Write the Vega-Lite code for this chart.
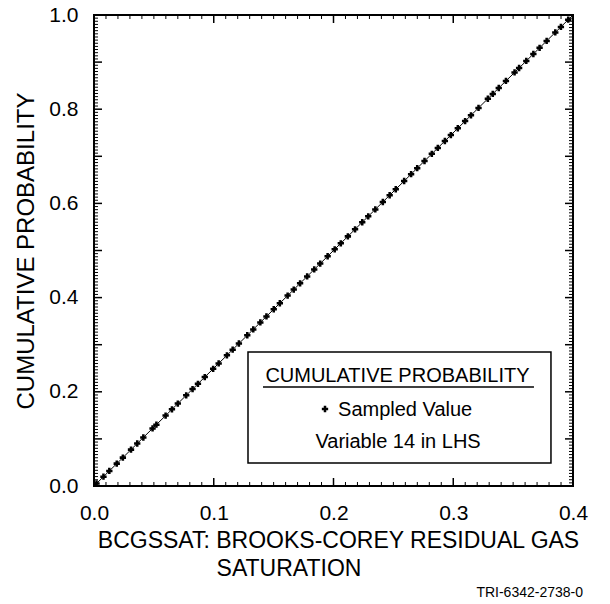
{
  "$schema": "https://vega.github.io/schema/vega-lite/v6.json",
  "width": 479,
  "height": 471,
  "autosize": "none",
  "padding": {"left": 94, "top": 15, "right": 37, "bottom": 118},
  "background": "white",
  "datasets": {
    "cdf": [{"value": 0, "prob": 0}, {"value": 0.4, "prob": 1}],
    "samples": [
      {"value": 0.0021, "prob": 0.00525}, {"value": 0.0079, "prob": 0.01975}, {"value": 0.0128, "prob": 0.032},
      {"value": 0.0190, "prob": 0.0475}, {"value": 0.0241, "prob": 0.06025}, {"value": 0.0309, "prob": 0.07725},
      {"value": 0.0361, "prob": 0.09025}, {"value": 0.0412, "prob": 0.103}, {"value": 0.0489, "prob": 0.12225},
      {"value": 0.0521, "prob": 0.13025}, {"value": 0.0598, "prob": 0.1495}, {"value": 0.0651, "prob": 0.16275},
      {"value": 0.0700, "prob": 0.175}, {"value": 0.0770, "prob": 0.1925}, {"value": 0.0823, "prob": 0.20575},
      {"value": 0.0868, "prob": 0.217}, {"value": 0.0925, "prob": 0.23125}, {"value": 0.0995, "prob": 0.24875},
      {"value": 0.1041, "prob": 0.26025}, {"value": 0.1110, "prob": 0.2775}, {"value": 0.1158, "prob": 0.2895},
      {"value": 0.1210, "prob": 0.3025}, {"value": 0.1280, "prob": 0.32}, {"value": 0.1330, "prob": 0.3325},
      {"value": 0.1389, "prob": 0.34725}, {"value": 0.1440, "prob": 0.36}, {"value": 0.1501, "prob": 0.37525},
      {"value": 0.1552, "prob": 0.388}, {"value": 0.1617, "prob": 0.40425}, {"value": 0.1668, "prob": 0.417},
      {"value": 0.1721, "prob": 0.43025}, {"value": 0.1780, "prob": 0.445}, {"value": 0.1839, "prob": 0.45975},
      {"value": 0.1889, "prob": 0.47225}, {"value": 0.1951, "prob": 0.48775}, {"value": 0.2010, "prob": 0.5025},
      {"value": 0.2061, "prob": 0.51525}, {"value": 0.2120, "prob": 0.53}, {"value": 0.2180, "prob": 0.545},
      {"value": 0.2240, "prob": 0.56}, {"value": 0.2290, "prob": 0.5725}, {"value": 0.2349, "prob": 0.58725},
      {"value": 0.2412, "prob": 0.603}, {"value": 0.2469, "prob": 0.61725}, {"value": 0.2520, "prob": 0.63},
      {"value": 0.2590, "prob": 0.6475}, {"value": 0.2648, "prob": 0.662}, {"value": 0.2699, "prob": 0.67475},
      {"value": 0.2760, "prob": 0.69}, {"value": 0.2821, "prob": 0.70525}, {"value": 0.2871, "prob": 0.71775},
      {"value": 0.2930, "prob": 0.7325}, {"value": 0.2980, "prob": 0.745}, {"value": 0.3038, "prob": 0.7595},
      {"value": 0.3099, "prob": 0.77475}, {"value": 0.3148, "prob": 0.787}, {"value": 0.3211, "prob": 0.80275},
      {"value": 0.3289, "prob": 0.82225}, {"value": 0.3330, "prob": 0.8325}, {"value": 0.3380, "prob": 0.845},
      {"value": 0.3440, "prob": 0.86}, {"value": 0.3512, "prob": 0.878}, {"value": 0.3550, "prob": 0.8875},
      {"value": 0.3610, "prob": 0.9025}, {"value": 0.3669, "prob": 0.91725}, {"value": 0.3721, "prob": 0.93025},
      {"value": 0.3780, "prob": 0.945}, {"value": 0.3852, "prob": 0.963}, {"value": 0.3899, "prob": 0.97475},
      {"value": 0.3960, "prob": 0.99}
    ],
    "xmajor": [{"v": 0}, {"v": 0.1}, {"v": 0.2}, {"v": 0.3}, {"v": 0.4}],
    "xminor": [
      {"v": 0.01}, {"v": 0.02}, {"v": 0.03}, {"v": 0.04}, {"v": 0.05}, {"v": 0.06}, {"v": 0.07}, {"v": 0.08}, {"v": 0.09},
      {"v": 0.11}, {"v": 0.12}, {"v": 0.13}, {"v": 0.14}, {"v": 0.15}, {"v": 0.16}, {"v": 0.17}, {"v": 0.18}, {"v": 0.19},
      {"v": 0.21}, {"v": 0.22}, {"v": 0.23}, {"v": 0.24}, {"v": 0.25}, {"v": 0.26}, {"v": 0.27}, {"v": 0.28}, {"v": 0.29},
      {"v": 0.31}, {"v": 0.32}, {"v": 0.33}, {"v": 0.34}, {"v": 0.35}, {"v": 0.36}, {"v": 0.37}, {"v": 0.38}, {"v": 0.39}
    ],
    "ymajor": [{"v": 0}, {"v": 0.1}, {"v": 0.2}, {"v": 0.3}, {"v": 0.4}, {"v": 0.5}, {"v": 0.6}, {"v": 0.7}, {"v": 0.8}, {"v": 0.9}, {"v": 1}],
    "yminor": [
      {"v": 0.0067}, {"v": 0.0133}, {"v": 0.0200}, {"v": 0.0267}, {"v": 0.0333}, {"v": 0.0400}, {"v": 0.0467}, {"v": 0.0533}, {"v": 0.0600}, {"v": 0.0667}, {"v": 0.0733}, {"v": 0.0800}, {"v": 0.0867}, {"v": 0.0933},
      {"v": 0.1067}, {"v": 0.1133}, {"v": 0.1200}, {"v": 0.1267}, {"v": 0.1333}, {"v": 0.1400}, {"v": 0.1467}, {"v": 0.1533}, {"v": 0.1600}, {"v": 0.1667}, {"v": 0.1733}, {"v": 0.1800}, {"v": 0.1867}, {"v": 0.1933},
      {"v": 0.2067}, {"v": 0.2133}, {"v": 0.2200}, {"v": 0.2267}, {"v": 0.2333}, {"v": 0.2400}, {"v": 0.2467}, {"v": 0.2533}, {"v": 0.2600}, {"v": 0.2667}, {"v": 0.2733}, {"v": 0.2800}, {"v": 0.2867}, {"v": 0.2933},
      {"v": 0.3067}, {"v": 0.3133}, {"v": 0.3200}, {"v": 0.3267}, {"v": 0.3333}, {"v": 0.3400}, {"v": 0.3467}, {"v": 0.3533}, {"v": 0.3600}, {"v": 0.3667}, {"v": 0.3733}, {"v": 0.3800}, {"v": 0.3867}, {"v": 0.3933},
      {"v": 0.4067}, {"v": 0.4133}, {"v": 0.4200}, {"v": 0.4267}, {"v": 0.4333}, {"v": 0.4400}, {"v": 0.4467}, {"v": 0.4533}, {"v": 0.4600}, {"v": 0.4667}, {"v": 0.4733}, {"v": 0.4800}, {"v": 0.4867}, {"v": 0.4933},
      {"v": 0.5067}, {"v": 0.5133}, {"v": 0.5200}, {"v": 0.5267}, {"v": 0.5333}, {"v": 0.5400}, {"v": 0.5467}, {"v": 0.5533}, {"v": 0.5600}, {"v": 0.5667}, {"v": 0.5733}, {"v": 0.5800}, {"v": 0.5867}, {"v": 0.5933},
      {"v": 0.6067}, {"v": 0.6133}, {"v": 0.6200}, {"v": 0.6267}, {"v": 0.6333}, {"v": 0.6400}, {"v": 0.6467}, {"v": 0.6533}, {"v": 0.6600}, {"v": 0.6667}, {"v": 0.6733}, {"v": 0.6800}, {"v": 0.6867}, {"v": 0.6933},
      {"v": 0.7067}, {"v": 0.7133}, {"v": 0.7200}, {"v": 0.7267}, {"v": 0.7333}, {"v": 0.7400}, {"v": 0.7467}, {"v": 0.7533}, {"v": 0.7600}, {"v": 0.7667}, {"v": 0.7733}, {"v": 0.7800}, {"v": 0.7867}, {"v": 0.7933},
      {"v": 0.8067}, {"v": 0.8133}, {"v": 0.8200}, {"v": 0.8267}, {"v": 0.8333}, {"v": 0.8400}, {"v": 0.8467}, {"v": 0.8533}, {"v": 0.8600}, {"v": 0.8667}, {"v": 0.8733}, {"v": 0.8800}, {"v": 0.8867}, {"v": 0.8933},
      {"v": 0.9067}, {"v": 0.9133}, {"v": 0.9200}, {"v": 0.9267}, {"v": 0.9333}, {"v": 0.9400}, {"v": 0.9467}, {"v": 0.9533}, {"v": 0.9600}, {"v": 0.9667}, {"v": 0.9733}, {"v": 0.9800}, {"v": 0.9867}, {"v": 0.9933}
    ]
  },
  "config": {
    "view": {"stroke": "black", "strokeWidth": 2},
    "title": {"font": "Liberation Sans", "fontWeight": "normal", "color": "black"}
  },
  "title": {
    "text": "TRI-6342-2738-0",
    "orient": "bottom",
    "anchor": "end",
    "frame": "group",
    "fontSize": 14,
    "offset": 6,
    "dx": 10
  },
  "resolve": {"axis": {"x": "independent", "y": "independent"}},
  "layer": [
    {
      "data": {"name": "cdf"},
      "mark": {"type": "line", "color": "black", "strokeWidth": 1},
      "encoding": {
        "x": {
          "field": "value", "type": "quantitative",
          "scale": {"domain": [0, 0.4], "nice": false},
          "axis": {
            "orient": "bottom",
            "values": [0, 0.1, 0.2, 0.3, 0.4],
            "format": ".1f",
            "grid": false, "domain": false, "ticks": false, "tickSize": 0,
            "labelPadding": 16, "labelFlush": false, "labelOverlap": false,
            "labelFont": "Liberation Sans", "labelFontSize": 21, "labelColor": "black",
            "title": "BCGSSAT: BROOKS-COREY RESIDUAL GAS",
            "titleFont": "Liberation Sans", "titleFontWeight": "normal", "titleColor": "black",
            "titleFontSize": 23,
            "titleBaseline": "alphabetic",
            "titleX": 244,
            "titleY": 61
          }
        },
        "y": {
          "field": "prob", "type": "quantitative",
          "scale": {"domain": [0, 1], "nice": false},
          "axis": {
            "orient": "left",
            "values": [0, 0.2, 0.4, 0.6, 0.8, 1],
            "format": ".1f",
            "grid": false, "domain": false, "ticks": false, "tickSize": 0,
            "labelPadding": 16, "labelFlush": false, "labelOverlap": false,
            "labelFont": "Liberation Sans", "labelFontSize": 21, "labelColor": "black",
            "title": "CUMULATIVE PROBABILITY",
            "titleFont": "Liberation Sans", "titleFontWeight": "normal", "titleColor": "black",
            "titleFontSize": 24,
            "titlePadding": 10
          }
        }
      }
    },
    {
      "data": {"name": "samples"},
      "mark": {"type": "point", "shape": "cross", "filled": true, "color": "black", "opacity": 1, "size": 40},
      "encoding": {
        "x": {"field": "value", "type": "quantitative", "axis": null},
        "y": {"field": "prob", "type": "quantitative", "axis": null}
      }
    },
    {
      "data": {"name": "cdf"},
      "mark": {"type": "point", "opacity": 0},
      "encoding": {
        "x": {
          "field": "value", "type": "quantitative",
          "axis": {
            "orient": "bottom", "values": [0], "grid": false, "domain": false, "ticks": false, "tickSize": 0, "labels": false,
            "title": "SATURATION",
            "titleFont": "Liberation Sans", "titleFontWeight": "normal", "titleColor": "black",
            "titleFontSize": 23,
            "titleBaseline": "alphabetic",
            "titleX": 194.5,
            "titleY": 89
          }
        },
        "y": {"field": "prob", "type": "quantitative", "axis": null}
      }
    },
    {
      "data": {"name": "xminor"},
      "mark": {"type": "rule", "color": "black", "strokeWidth": 1},
      "encoding": {
        "x": {"field": "v", "type": "quantitative", "axis": null},
        "y": {"datum": 0, "type": "quantitative", "axis": null},
        "y2": {"datum": 0.0085}
      }
    },
    {
      "data": {"name": "xminor"},
      "mark": {"type": "rule", "color": "black", "strokeWidth": 1},
      "encoding": {
        "x": {"field": "v", "type": "quantitative", "axis": null},
        "y": {"datum": 1, "type": "quantitative", "axis": null},
        "y2": {"datum": 0.9915}
      }
    },
    {
      "data": {"name": "xmajor"},
      "mark": {"type": "rule", "color": "black", "strokeWidth": 1.5},
      "encoding": {
        "x": {"field": "v", "type": "quantitative", "axis": null},
        "y": {"datum": 0, "type": "quantitative", "axis": null},
        "y2": {"datum": 0.017}
      }
    },
    {
      "data": {"name": "xmajor"},
      "mark": {"type": "rule", "color": "black", "strokeWidth": 1.5},
      "encoding": {
        "x": {"field": "v", "type": "quantitative", "axis": null},
        "y": {"datum": 1, "type": "quantitative", "axis": null},
        "y2": {"datum": 0.983}
      }
    },
    {
      "data": {"name": "yminor"},
      "mark": {"type": "rule", "color": "black", "strokeWidth": 1},
      "encoding": {
        "y": {"field": "v", "type": "quantitative", "axis": null},
        "x": {"datum": 0, "type": "quantitative", "axis": null},
        "x2": {"datum": 0.00334}
      }
    },
    {
      "data": {"name": "yminor"},
      "mark": {"type": "rule", "color": "black", "strokeWidth": 1},
      "encoding": {
        "y": {"field": "v", "type": "quantitative", "axis": null},
        "x": {"datum": 0.4, "type": "quantitative", "axis": null},
        "x2": {"datum": 0.39666}
      }
    },
    {
      "data": {"name": "ymajor"},
      "mark": {"type": "rule", "color": "black", "strokeWidth": 1.5},
      "encoding": {
        "y": {"field": "v", "type": "quantitative", "axis": null},
        "x": {"datum": 0, "type": "quantitative", "axis": null},
        "x2": {"datum": 0.00668}
      }
    },
    {
      "data": {"name": "ymajor"},
      "mark": {"type": "rule", "color": "black", "strokeWidth": 1.5},
      "encoding": {
        "y": {"field": "v", "type": "quantitative", "axis": null},
        "x": {"datum": 0.4, "type": "quantitative", "axis": null},
        "x2": {"datum": 0.39332}
      }
    },
    {
      "data": {"values": [{}]},
      "mark": {"type": "rect", "fill": "white", "stroke": "black", "strokeWidth": 1.5},
      "encoding": {
        "x": {"datum": 0.1286, "type": "quantitative", "axis": null},
        "x2": {"datum": 0.3816},
        "y": {"datum": 0.2845, "type": "quantitative", "axis": null},
        "y2": {"datum": 0.0488}
      }
    },
    {
      "data": {"values": [{}]},
      "mark": {"type": "text", "text": "CUMULATIVE PROBABILITY", "font": "Liberation Sans", "fontSize": 20, "align": "center", "baseline": "alphabetic", "color": "black"},
      "encoding": {
        "x": {"datum": 0.2534, "type": "quantitative", "axis": null},
        "y": {"datum": 0.2214, "type": "quantitative", "axis": null}
      }
    },
    {
      "data": {"values": [{}]},
      "mark": {"type": "rule", "color": "black", "strokeWidth": 1.5},
      "encoding": {
        "x": {"datum": 0.1411, "type": "quantitative", "axis": null},
        "x2": {"datum": 0.3674},
        "y": {"datum": 0.2102, "type": "quantitative", "axis": null}
      }
    },
    {
      "data": {"values": [{}]},
      "mark": {"type": "point", "shape": "cross", "filled": true, "color": "black", "opacity": 1, "size": 40},
      "encoding": {
        "x": {"datum": 0.1929, "type": "quantitative", "axis": null},
        "y": {"datum": 0.1635, "type": "quantitative", "axis": null}
      }
    },
    {
      "data": {"values": [{}]},
      "mark": {"type": "text", "text": "Sampled Value", "font": "Liberation Sans", "fontSize": 20, "align": "left", "baseline": "alphabetic", "color": "black"},
      "encoding": {
        "x": {"datum": 0.2038, "type": "quantitative", "axis": null},
        "y": {"datum": 0.1486, "type": "quantitative", "axis": null}
      }
    },
    {
      "data": {"values": [{}]},
      "mark": {"type": "text", "text": "Variable 14 in LHS", "font": "Liberation Sans", "fontSize": 20, "align": "center", "baseline": "alphabetic", "color": "black"},
      "encoding": {
        "x": {"datum": 0.2539, "type": "quantitative", "axis": null},
        "y": {"datum": 0.0807, "type": "quantitative", "axis": null}
      }
    }
  ]
}
